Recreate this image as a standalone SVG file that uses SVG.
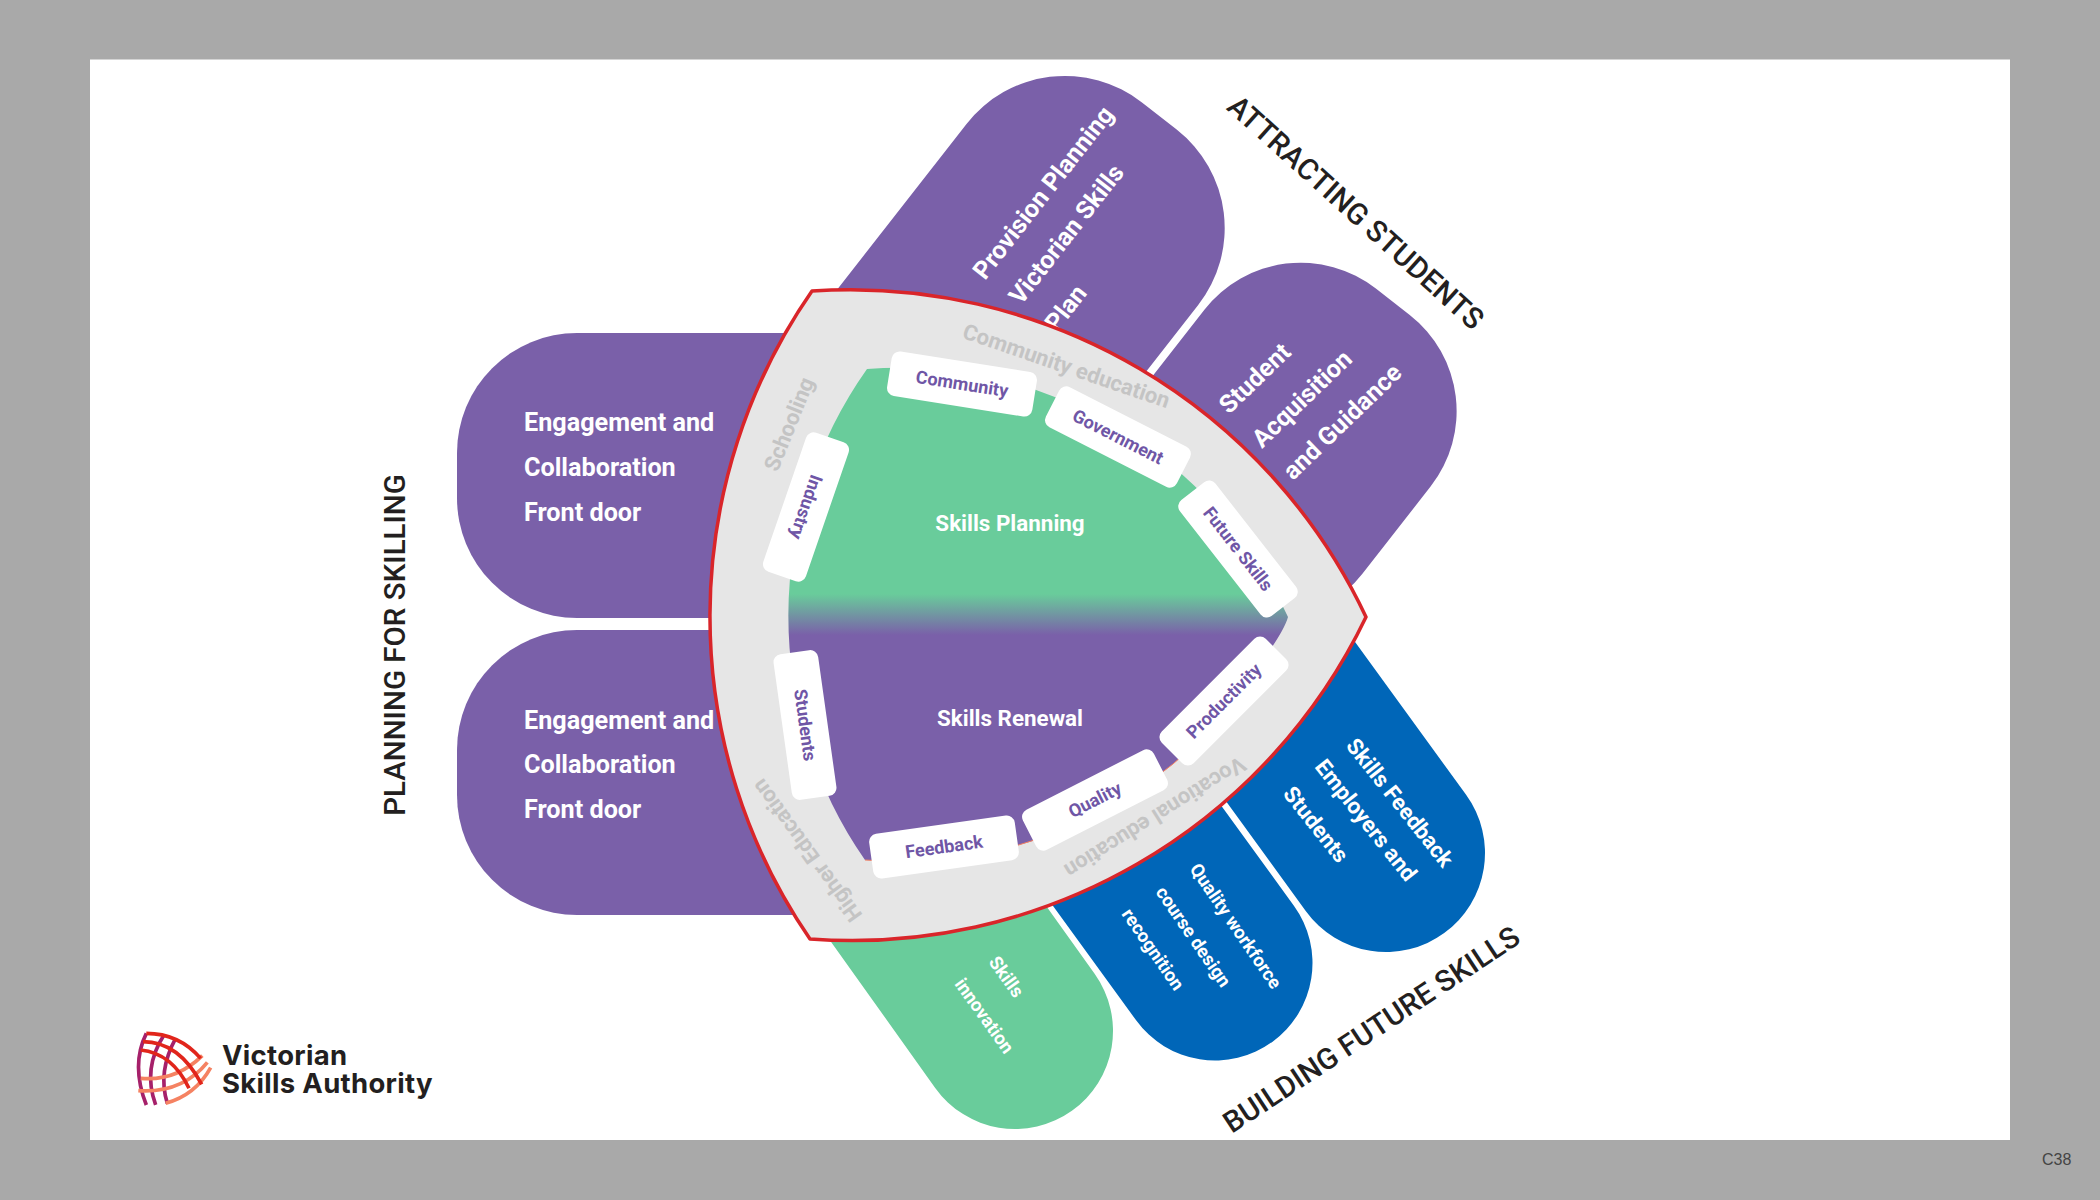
<svg xmlns="http://www.w3.org/2000/svg" width="2100" height="1200" viewBox="0 0 2100 1200">
<defs>
<linearGradient id="core" gradientUnits="userSpaceOnUse" x1="0" y1="594" x2="0" y2="635"><stop offset="0" stop-color="#69cc9b"/><stop offset="1" stop-color="#7a60a9"/></linearGradient>
</defs>
<style>
text{font-family:Roboto,"Liberation Sans",sans-serif}
.p{fill:#7a60a9}.b{fill:#0066b8}.g{fill:#69cc9b}
.w{fill:#fff;font-weight:700;font-size:25.2px}
.wr{fill:#fff;font-weight:700;font-size:25px}
.ws{fill:#fff;font-weight:700;font-size:22.3px}
.wt{fill:#fff;font-weight:700;font-size:18.5px}
.h{fill:#231f20;font-weight:500;font-size:29.5px;text-anchor:middle}
.c{fill:#fff;font-weight:700;font-size:22.4px;text-anchor:middle}
.r{fill:#c4c4c4;font-weight:700;font-size:22px;text-anchor:middle}
.t{fill:#6f56a6;font-weight:700;font-size:18px;text-anchor:middle}
.tag{fill:#fff}
.lr{fill:none;stroke:#e1251b;stroke-width:11}
.lo{fill:none;stroke:#f58262;stroke-width:11}
.lm{fill:none;stroke:#a6206a;stroke-width:11}
.lg{fill:#231f20;font-family:Inter,Roboto,sans-serif;font-weight:700;font-size:27.5px;letter-spacing:.3px}
</style>
<rect width="2100" height="1200" fill="#a9a9a9"/>
<rect x="90" y="59.5" width="1920" height="1080.5" fill="#fff"/>
<text x="2042" y="1165" font-size="16" fill="#444" style="font-family:'Liberation Sans',sans-serif">C38</text>

<g id="pill-planning-1"><rect class="p" x="457" y="333" width="520" height="285" rx="120"/><text class="w" x="524" y="431">Engagement and</text><text class="w" x="524" y="476">Collaboration</text><text class="w" x="524" y="521">Front door</text></g>
<g id="pill-planning-2"><rect class="p" x="457" y="630" width="520" height="285" rx="120"/><text class="w" x="524" y="729">Engagement and</text><text class="w" x="524" y="773">Collaboration</text><text class="w" x="524" y="818">Front door</text></g>
<g id="pill-provision"><rect class="p" transform="translate(836,291) rotate(-52)" x="-150" y="0" width="487" height="294" rx="125"/>
<text class="wr" transform="translate(985,281) rotate(-52)">Provision Planning</text><text class="wr" transform="translate(1021,306) rotate(-52)">Victorian Skills</text><text class="wr" transform="translate(1057,333) rotate(-52)">Plan</text></g>
<g id="pill-student"><rect class="p" transform="translate(1153.5,375) rotate(-52)" x="-150" y="0" width="355" height="287" rx="122"/>
<text class="wr" transform="translate(1229,415) rotate(-44)">Student</text><text class="wr" transform="translate(1262,449) rotate(-44)">Acquisition</text><text class="wr" transform="translate(1293,481) rotate(-44)">and Guidance</text></g>
<g id="pill-feedback"><rect class="b" transform="translate(1386,853) rotate(54)" x="-320" y="-99" width="419" height="198" rx="99"/>
<text class="ws" transform="translate(1345,746) rotate(51.5)">Skills Feedback</text><text class="ws" transform="translate(1314,767) rotate(51.5)">Employers and</text><text class="ws" transform="translate(1282,794) rotate(51.5)">Students</text></g>
<g id="pill-quality"><rect class="b" transform="translate(1215,963) rotate(54)" x="-320" y="-97.5" width="417.5" height="195" rx="97.5"/>
<text class="wt" transform="translate(1189,869) rotate(55.5)">Quality workforce</text><text class="wt" transform="translate(1155,892) rotate(55.5)">course design</text><text class="wt" transform="translate(1121,914) rotate(55.5)">recognition</text></g>
<g id="pill-innovation"><rect class="g" transform="translate(1015,1031) rotate(54.5)" x="-320" y="-98" width="418" height="196" rx="98"/>
<text class="wt" transform="translate(988,962) rotate(54.5)">Skills</text><text class="wt" transform="translate(954,984) rotate(54.5)">innovation</text></g>

<g id="ring"><path d="M812 291A570 570 0 0 1 1366 617A570 570 0 0 1 810 939A570 570 0 0 1 812 291Z" fill="#e6e6e6" stroke="#d9252a" stroke-width="3.5" stroke-linejoin="round"/>
<text class="r" transform="translate(1064,373) rotate(19)">Community education</text>
<text class="r" transform="translate(796,427) rotate(-68)">Schooling</text>
<text class="r" transform="translate(813,846) rotate(-126)">Higher Education</text>
<text class="r" transform="translate(1151,811) rotate(148)">Vocational education</text></g>

<g id="core-shape"><path d="M867 369A427 427 0 0 1 1288 617Q1285 628 1270 650A427 427 0 0 1 865 860A427 427 0 0 1 867 369Z" fill="url(#core)"/>
<path d="M1270 650A427 427 0 0 1 865 860" fill="none" stroke="#f58262" stroke-width="1"/>
<text class="c" x="1010" y="531">Skills Planning</text><text class="c" x="1010" y="726">Skills Renewal</text></g>

<g id="tag-community"><rect class="tag" transform="translate(962,384) rotate(9)" x="-73.5" y="-22.5" width="147" height="45" rx="8"/><text class="t" transform="translate(962,384) rotate(9)" y="6">Community</text></g>
<g id="tag-government"><rect class="tag" transform="translate(1118,437) rotate(27)" x="-73.5" y="-22.5" width="147" height="45" rx="8"/><text class="t" transform="translate(1118,437) rotate(27)" y="6">Government</text></g>
<g id="tag-future"><rect class="tag" transform="translate(1238,549) rotate(52)" x="-73.5" y="-22.5" width="147" height="45" rx="8"/><text class="t" transform="translate(1238,549) rotate(52)" y="6">Future Skills</text></g>
<g id="tag-industry"><rect class="tag" transform="translate(806,507) rotate(109)" x="-73.5" y="-22.5" width="147" height="45" rx="8"/><text class="t" transform="translate(806,507) rotate(109)" y="6">Industry</text></g>
<g id="tag-students"><rect class="tag" transform="translate(805,725) rotate(82)" x="-73.5" y="-22.5" width="147" height="45" rx="8"/><text class="t" transform="translate(805,725) rotate(82)" y="6">Students</text></g>
<g id="tag-feedback"><rect class="tag" transform="translate(944,847) rotate(-8)" x="-73.5" y="-22.5" width="147" height="45" rx="8"/><text class="t" transform="translate(944,847) rotate(-8)" y="6">Feedback</text></g>
<g id="tag-quality"><rect class="tag" transform="translate(1095,800) rotate(-27)" x="-73.5" y="-22.5" width="147" height="45" rx="8"/><text class="t" transform="translate(1095,800) rotate(-27)" y="6">Quality</text></g>
<g id="tag-productivity"><rect class="tag" transform="translate(1224,701) rotate(-45)" x="-73.5" y="-22.5" width="147" height="45" rx="8"/><text class="t" transform="translate(1224,701) rotate(-45)" y="6">Productivity</text></g>

<g id="titles">
<text class="h" transform="translate(1349,220) rotate(42)">ATTRACTING STUDENTS</text>
<text class="h" transform="translate(405,645) rotate(-90)">PLANNING FOR SKILLING</text>
<text class="h" transform="translate(1377,1038) rotate(-33.5)">BUILDING FUTURE SKILLS</text>
</g>

<g id="logo">
<g transform="translate(129,1025) scale(.3333)">
<path class="lm" d="M52 25Q5 120 52 240"/><path class="lm" d="M105 30Q40 130 80 240"/><path class="lm" d="M140 40Q85 140 115 235"/>
<path class="lo" d="M35 160Q140 170 220 92"/><path class="lo" d="M28 197Q160 205 235 112"/><path class="lo" d="M110 235Q200 210 245 128"/>
<path class="lr" d="M52 25Q150 25 215 100"/><path class="lr" d="M42 50Q150 50 218 178"/><path class="lr" d="M35 75Q130 85 180 190"/>
</g>
<text class="lg" x="222" y="1065">Victorian</text><text class="lg" x="222" y="1093">Skills Authority</text>
</g>
</svg>
